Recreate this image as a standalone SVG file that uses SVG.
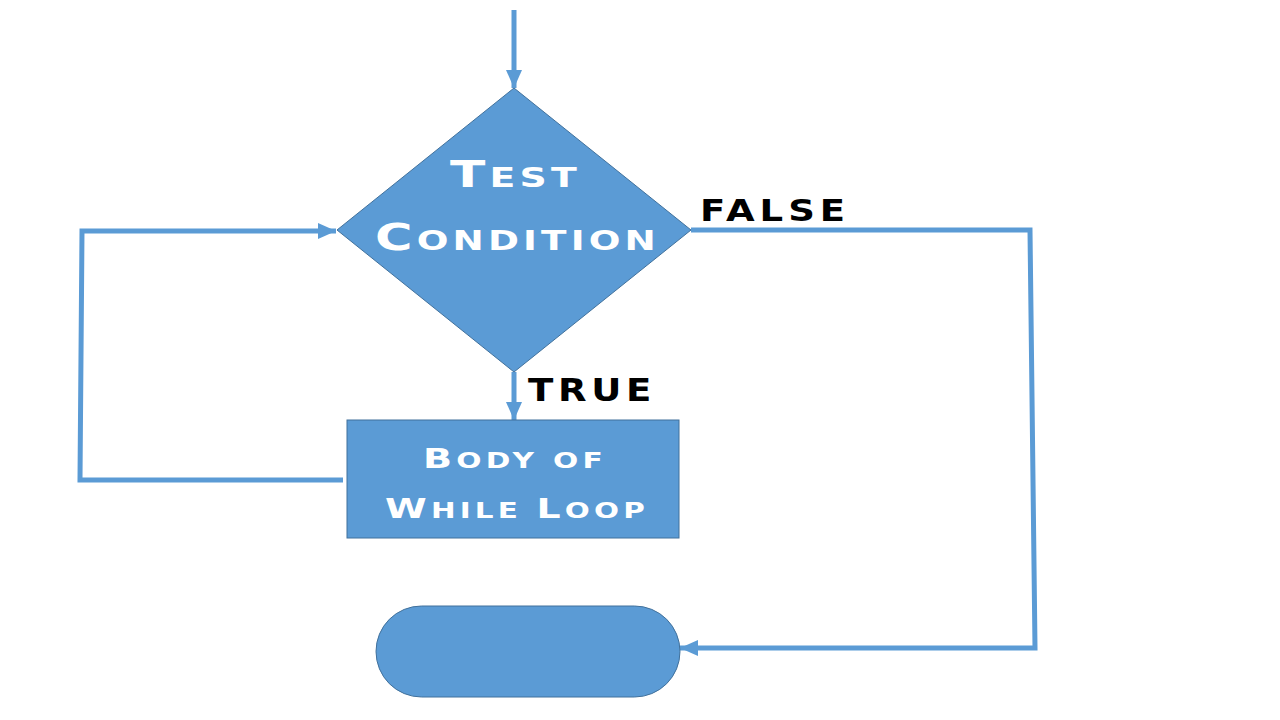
<svg xmlns="http://www.w3.org/2000/svg" width="1280" height="720" viewBox="0 0 1280 720">
<style>
.shape{fill:#5B9BD5;stroke:#41719C;stroke-width:1}
.conn{fill:none;stroke:#5B9BD5;stroke-width:5;stroke-linecap:butt}
.w{fill:#FFFFFF;font-family:"DejaVu Sans",sans-serif;font-weight:bold;letter-spacing:3px}
.k{fill:#000000;font-family:"DejaVu Sans",sans-serif;font-weight:bold;letter-spacing:4px}
</style>
<defs>
<marker id="ah" markerUnits="userSpaceOnUse" markerWidth="20" markerHeight="16" refX="18" refY="8" orient="auto">
<polygon points="0,0 18,8 0,16" fill="#5B9BD5"/>
</marker>
</defs>
<rect width="1280" height="720" fill="#FFFFFF"/>
<g id="connectors">
<line class="conn" x1="514" y1="10" x2="514" y2="88" marker-end="url(#ah)"/>
<polyline class="conn" points="343,480 80,480 82,231 336,231" marker-end="url(#ah)"/>
<line class="conn" x1="514" y1="372" x2="514" y2="420" marker-end="url(#ah)"/>
<polyline class="conn" points="691,230 1030,230 1035,648 680,648" marker-end="url(#ah)"/>
</g>
<g id="decision">
<polygon class="shape" points="514,88 691,230 514,372 337,230"/>
<text class="w" x="450" y="187" textLength="131" lengthAdjust="spacingAndGlyphs"><tspan font-size="37">T</tspan><tspan font-size="27">EST</tspan></text>
<text class="w" x="375" y="250" textLength="285" lengthAdjust="spacingAndGlyphs"><tspan font-size="37">C</tspan><tspan font-size="27">ONDITION</tspan></text>
</g>
<g id="body">
<rect class="shape" x="347" y="420" width="332" height="118"/>
<text class="w" x="423" y="468" textLength="184" lengthAdjust="spacingAndGlyphs"><tspan font-size="27">B</tspan><tspan font-size="21">ODY OF</tspan></text>
<text class="w" x="385" y="518" textLength="264" lengthAdjust="spacingAndGlyphs"><tspan font-size="27">W</tspan><tspan font-size="21">HILE </tspan><tspan font-size="27">L</tspan><tspan font-size="21">OOP</tspan></text>
</g>
<g id="end">
<rect class="shape" x="376" y="606" width="304" height="91" rx="45.5" ry="45.5"/>
</g>
<g id="labels">
<text class="k" x="528" y="401" font-size="32" textLength="128" lengthAdjust="spacingAndGlyphs">TRUE</text>
<text class="k" x="700" y="221" font-size="30" textLength="150" lengthAdjust="spacingAndGlyphs">FALSE</text>
</g>
</svg>
